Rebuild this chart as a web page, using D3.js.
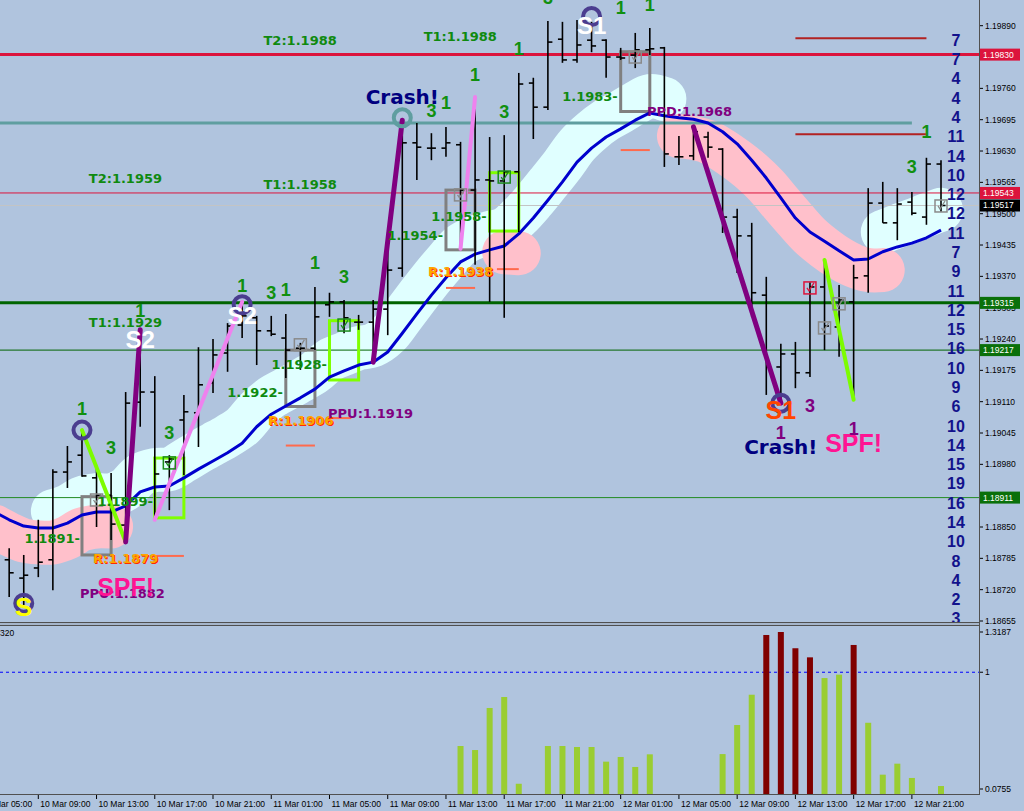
<!DOCTYPE html>
<html>
<head>
<meta charset="utf-8">
<title>EURUSD H1</title>
<script src="https://cdn.jsdelivr.net/npm/d3@7"></script>
<style>
  body { margin: 0; background: #b0c4de; }
  svg { display: block; }
  text { font-family: "Liberation Sans", Arial, sans-serif; }
</style>
</head>
<body>
<svg id="chart" width="1024" height="811"></svg>
<script>
// hourly bars, first one is 10 Mar 06:00
var barOpen = [1.18800, 1.18782, 1.18744, 1.18765, 1.18782, 1.18964, 1.18999, 1.18952, 1.18916, 1.18854,
  1.19109, 1.19130, 1.18985, 1.19072, 1.19087, 1.19149, 1.19211, 1.19269, 1.19284, 1.19257,
  1.19242, 1.19221, 1.19221, 1.19311, 1.19317, 1.19275, 1.19275, 1.19302, 1.19387, 1.19647,
  1.19636, 1.19636, 1.19643, 1.19549, 1.19570, 1.19568, 1.19587, 1.19771, 1.19721, 1.19862,
  1.19819, 1.19860, 1.19860, 1.19825, 1.19829, 1.19840, 1.19844, 1.19618, 1.19620, 1.19659,
  1.19634, 1.19493, 1.19454, 1.19331, 1.19182, 1.19209, 1.19170, 1.19348, 1.19265, 1.19317,
  1.19371, 1.19522, 1.19481, 1.19524, 1.19493, 1.19603];
var barHigh = [1.18830, 1.18806, 1.18792, 1.18865, 1.18970, 1.19018, 1.19051, 1.18977, 1.18962, 1.19130,
  1.19259, 1.19163, 1.18999, 1.19124, 1.19223, 1.19240, 1.19273, 1.19317, 1.19288, 1.19288,
  1.19292, 1.19232, 1.19348, 1.19336, 1.19321, 1.19290, 1.19321, 1.19462, 1.19694, 1.19688,
  1.19667, 1.19680, 1.19649, 1.19742, 1.19659, 1.19663, 1.19792, 1.19782, 1.19900, 1.19898,
  1.19902, 1.19898, 1.19862, 1.19844, 1.19875, 1.19885, 1.19846, 1.19661, 1.19680, 1.19670,
  1.19636, 1.19510, 1.19481, 1.19369, 1.19230, 1.19234, 1.19358, 1.19404, 1.19352, 1.19394,
  1.19553, 1.19566, 1.19553, 1.19545, 1.19616, 1.19611];
var barLow = [1.18740, 1.18705, 1.18688, 1.18746, 1.18719, 1.18931, 1.18954, 1.18850, 1.18823, 1.18819,
  1.19058, 1.18865, 1.18885, 1.18958, 1.19016, 1.19128, 1.19172, 1.19242, 1.19186, 1.19246,
  1.19159, 1.19176, 1.19217, 1.19286, 1.19252, 1.19259, 1.19192, 1.19248, 1.19369, 1.19570,
  1.19611, 1.19618, 1.19427, 1.19394, 1.19317, 1.19284, 1.19462, 1.19655, 1.19715, 1.19813,
  1.19813, 1.19835, 1.19782, 1.19819, 1.19802, 1.19829, 1.19597, 1.19601, 1.19611, 1.19616,
  1.19460, 1.19377, 1.19286, 1.19124, 1.19107, 1.19138, 1.19161, 1.19217, 1.19203, 1.19114,
  1.19336, 1.19481, 1.19445, 1.19497, 1.19477, 1.19504];
var barClose = [1.18782, 1.18755, 1.18750, 1.18777, 1.18964, 1.18985, 1.18956, 1.18916, 1.18856, 1.19107,
  1.19130, 1.18960, 1.18991, 1.19089, 1.19145, 1.19207, 1.19267, 1.19288, 1.19257, 1.19250,
  1.19217, 1.19221, 1.19286, 1.19317, 1.19284, 1.19275, 1.19302, 1.19383, 1.19647, 1.19638,
  1.19636, 1.19647, 1.19549, 1.19570, 1.19568, 1.19587, 1.19769, 1.19721, 1.19856, 1.19819,
  1.19850, 1.19848, 1.19825, 1.19823, 1.19840, 1.19842, 1.19624, 1.19618, 1.19670, 1.19638,
  1.19493, 1.19454, 1.19336, 1.19182, 1.19209, 1.19170, 1.19348, 1.19267, 1.19321, 1.19367,
  1.19522, 1.19481, 1.19520, 1.19501, 1.19603, 1.19517];

var maValues = [1.18881, 1.18865, 1.18852, 1.18848, 1.18848, 1.18858, 1.18875, 1.18881, 1.18881, 1.18894,
  1.18923, 1.18933, 1.18935, 1.18952, 1.18970, 1.18987, 1.19004, 1.19024, 1.19058, 1.19084,
  1.19101, 1.19118, 1.19136, 1.19161, 1.19174, 1.19186, 1.19192, 1.19213, 1.19252, 1.19292,
  1.19331, 1.19367, 1.19400, 1.19416, 1.19425, 1.19433, 1.19458, 1.19491, 1.19528, 1.19566,
  1.19607, 1.19636, 1.19659, 1.19676, 1.19694, 1.19709, 1.19703, 1.19699, 1.19696, 1.19688,
  1.19670, 1.19645, 1.19611, 1.19574, 1.19533, 1.19491, 1.19462, 1.19443, 1.19423, 1.19404,
  1.19406, 1.19421, 1.19431, 1.19439, 1.19450, 1.19466];

var cyanBand = [null, null, null, null,
  1.18883, 1.18893, 1.18910, 1.18916, 1.18916, 1.18929, 1.18958, 1.18968, 1.18970, 1.18987,
  1.19005, 1.19022, 1.19039, 1.19059, 1.19093, 1.19119, 1.19136, 1.19153, 1.19171, 1.19196,
  1.19209, 1.19221, 1.19227, 1.19248, 1.19287, 1.19327, 1.19366, 1.19402, 1.19435, 1.19451,
  1.19460, 1.19468, 1.19493, 1.19526, 1.19563, 1.19601, 1.19642, 1.19671, 1.19694, 1.19711,
  1.19729, 1.19744, 1.19738,
  null, null, null, null, null, null, null, null, null, null, null, null, null, null,
  1.19462, 1.19474, 1.19485, 1.19497, 1.19508];
var pinkBand = [1.18851, 1.18835, 1.18822, 1.18818, 1.18818, 1.18828, 1.18845, 1.18851, 1.18851,
  null, null, null, null, null, null, null, null, null, null, null, null, null,
  null, null, null, null, null, null, null, null, null, null, null, null, null,
  1.19420, 1.19418,
  null, null, null, null, null, null, null, null, null, null,
  1.19661, 1.19657, 1.19649, 1.19632, 1.19611, 1.19587, 1.19558, 1.19522, 1.19487, 1.19454,
  1.19429, 1.19408, 1.19392, 1.19383, 1.19383,
  null, null, null, null];

// lower window histogram, starts at bar 32 (11 Mar 14:00)
var indFirst = 32;
var indValues = [0.416, 0.384, 0.717, 0.804, 0.117, null, 0.416, 0.416, 0.408, 0.408,
  0.292, 0.329, 0.250, 0.350, null, null, null, null, 0.352, 0.582,
  0.822, 1.295, 1.3187, 1.190, 1.118, 0.954, 0.981, 1.216, 0.600, 0.189,
  0.276, 0.163, null, 0.099];

var timeLabels = ["10 Mar 05:00", "10 Mar 09:00", "10 Mar 13:00", "10 Mar 17:00", "10 Mar 21:00",
  "11 Mar 01:00", "11 Mar 05:00", "11 Mar 09:00", "11 Mar 13:00", "11 Mar 17:00", "11 Mar 21:00",
  "12 Mar 01:00", "12 Mar 05:00", "12 Mar 09:00", "12 Mar 13:00", "12 Mar 17:00", "12 Mar 21:00"];
var priceTicks = [1.19890, 1.19825, 1.19760, 1.19695, 1.19630, 1.19565, 1.19500, 1.19435, 1.19370, 1.19305,
  1.19240, 1.19175, 1.19110, 1.19045, 1.18980, 1.18915, 1.18850, 1.18785, 1.18720, 1.18655];

var levelPrices = [1.1986, 1.1982, 1.1978, 1.1974, 1.1970, 1.1966, 1.1962, 1.1958, 1.1954, 1.1950,
  1.1946, 1.1942, 1.1938, 1.1934, 1.1930, 1.1926, 1.1922, 1.1918, 1.1914, 1.1910,
  1.1906, 1.1902, 1.1898, 1.1894, 1.1890, 1.1886, 1.1882, 1.1878, 1.1874, 1.1870, 1.1866];
var levelCounts = [7, 7, 4, 4, 4, 11, 14, 10, 12, 12, 11, 7, 9, 11, 12, 15, 16, 10, 9, 6, 10, 14, 15, 19, 16, 14, 10, 8, 4, 2, 3];

var hLinePrices = [1.19830, 1.19688, 1.19543, 1.19517, 1.19315, 1.19217, 1.18911];
var indLabels = [1.3187, 1, 0.0755];

var svg = d3.select('#chart');
var plotW = 980, plotH = 622;
var x = d3.scaleLinear().domain([0, 65]).range([-5.38, 941]);
var y = d3.scaleLinear().domain([1.18655, 1.19890]).range([621, 25.7]);
var yInd = d3.scaleLinear().domain([0.0755, 1.3187]).range([789, 632]);

svg.append('rect').attr('width', 1024).attr('height', 811).attr('fill', '#b0c4de');

var defs = svg.append('defs');
defs.append('clipPath').attr('id', 'clipMain')
  .append('rect').attr('x', 0).attr('y', 0).attr('width', plotW).attr('height', plotH);
defs.append('clipPath').attr('id', 'clipInd')
  .append('rect').attr('x', 0).attr('y', 626).attr('width', plotW).attr('height', 168);

var main = svg.append('g').attr('clip-path', 'url(#clipMain)');

// ribbon around the average
var band = d3.line()
  .defined(function (d) { return d != null; })
  .x(function (d, i) { return x(i); })
  .y(function (d) { return y(d); })
  .curve(d3.curveCatmullRom);
main.append('path').attr('d', band(cyanBand))
  .attr('fill', 'none').attr('stroke', '#e0ffff').attr('stroke-width', 44)
  .attr('stroke-linecap', 'round').attr('stroke-linejoin', 'round');
main.append('path').attr('d', band(pinkBand))
  .attr('fill', 'none').attr('stroke', '#ffc0cb').attr('stroke-width', 44)
  .attr('stroke-linecap', 'round').attr('stroke-linejoin', 'round');

// horizontal levels
var hLines = [
  {p: hLinePrices[0], color: '#dc143c', w: 3, end: 65, box: '#dc143c'},
  {p: hLinePrices[1], color: '#5f9ea0', w: 3, end: 63, box: null},
  {p: hLinePrices[2], color: '#dc143c', w: 1, end: 65, box: '#dc143c'},
  {p: hLinePrices[3], color: '#c4c4c4', w: 1, end: 65, box: '#000000'},
  {p: hLinePrices[4], color: '#006400', w: 3, end: 65, box: '#0a700a'},
  {p: hLinePrices[5], color: '#006400', w: 1, end: 65, box: '#0a700a'},
  {p: hLinePrices[6], color: '#228b22', w: 1, end: 65, box: '#0a700a'}
];
main.selectAll('line.level').data(hLines).enter().append('line')
  .attr('x1', 0)
  .attr('x2', function (d) { return d.end >= 65 ? plotW : x(d.end); })
  .attr('y1', function (d) { return y(d.p); })
  .attr('y2', function (d) { return y(d.p); })
  .attr('stroke', function (d) { return d.color; })
  .attr('stroke-width', function (d) { return d.w; });

// short target / stop lines
var shortLines = [
  {i1: 11, i2: 13, p: 1.18790, color: '#ff6a4d'},
  {i1: 20, i2: 22, p: 1.19019, color: '#ff6a4d'},
  {i1: 23, i2: 24.5, p: 1.19076, color: '#ff6a4d'},
  {i1: 31, i2: 33, p: 1.19346, color: '#ff6a4d'},
  {i1: 34.5, i2: 36, p: 1.19385, color: '#ff6a4d'},
  {i1: 43, i2: 45, p: 1.19632, color: '#ff6a4d'},
  {i1: 55, i2: 64, p: 1.19864, color: '#b22222'},
  {i1: 55, i2: 64, p: 1.19665, color: '#b22222'}
];
main.selectAll('line.short').data(shortLines).enter().append('line')
  .attr('x1', function (d) { return x(d.i1); })
  .attr('x2', function (d) { return x(d.i2); })
  .attr('y1', function (d) { return y(d.p); })
  .attr('y2', function (d) { return y(d.p); })
  .attr('stroke', function (d) { return d.color; })
  .attr('stroke-width', 2);

// boxes
var boxes = [
  {i1: 6, i2: 8, top: 1.18913, bot: 1.18792, color: '#808080'},
  {i1: 20, i2: 22, top: 1.19217, bot: 1.19100, color: '#808080'},
  {i1: 31, i2: 33, top: 1.19549, bot: 1.19425, color: '#808080'},
  {i1: 43, i2: 45, top: 1.19836, bot: 1.19712, color: '#808080'},
  {i1: 11, i2: 13, top: 1.18993, bot: 1.18869, color: '#7fff00'},
  {i1: 23, i2: 25, top: 1.19278, bot: 1.19155, color: '#7fff00'},
  {i1: 34, i2: 36, top: 1.19585, bot: 1.19464, color: '#7fff00'}
];
main.selectAll('rect.box').data(boxes).enter().append('rect')
  .attr('x', function (d) { return x(d.i1); })
  .attr('y', function (d) { return y(d.top); })
  .attr('width', function (d) { return x(d.i2) - x(d.i1); })
  .attr('height', function (d) { return y(d.bot) - y(d.top); })
  .attr('fill', 'none')
  .attr('stroke', function (d) { return d.color; })
  .attr('stroke-width', 3);

// moving average
var maLine = d3.line()
  .x(function (d, i) { return x(i); })
  .y(function (d) { return y(d); });
main.append('path').attr('d', maLine(maValues))
  .attr('fill', 'none').attr('stroke', '#0000cd').attr('stroke-width', 3)
  .attr('stroke-linejoin', 'round');

// OHLC bars
var bars = barOpen.map(function (o, i) {
  return {i: i, o: o, h: barHigh[i], l: barLow[i], c: barClose[i]};
});
var bg = main.selectAll('g.bar').data(bars).enter().append('g')
  .attr('stroke', '#000').attr('stroke-width', 1.6);
bg.append('line')
  .attr('x1', function (d) { return x(d.i); }).attr('x2', function (d) { return x(d.i); })
  .attr('y1', function (d) { return y(d.h); }).attr('y2', function (d) { return y(d.l); });
bg.append('line')
  .attr('x1', function (d) { return x(d.i) - 4.5; }).attr('x2', function (d) { return x(d.i); })
  .attr('y1', function (d) { return y(d.o); }).attr('y2', function (d) { return y(d.o); });
bg.append('line')
  .attr('x1', function (d) { return x(d.i); }).attr('x2', function (d) { return x(d.i) + 4.5; })
  .attr('y1', function (d) { return y(d.c); }).attr('y2', function (d) { return y(d.c); });

// swing lines, from bar extremes
var swings = [
  {i1: 6, p1: barHigh[6], i2: 9, p2: barLow[9], color: '#7cfc00', w: 4},
  {i1: 9, p1: barLow[9], i2: 10, p2: barHigh[10], color: '#800080', w: 5},
  {i1: 11, p1: barLow[11], i2: 17, p2: barHigh[17], color: '#ee82ee', w: 4},
  {i1: 26, p1: barLow[26], i2: 28, p2: barHigh[28], color: '#800080', w: 5},
  {i1: 32, p1: barLow[32], i2: 33, p2: barHigh[33], color: '#ee82ee', w: 4},
  {i1: 48, p1: barHigh[48], i2: 54, p2: barLow[54], color: '#800080', w: 5},
  {i1: 57, p1: barHigh[57], i2: 59, p2: barLow[59], color: '#7cfc00', w: 4}
];
main.selectAll('line.swing').data(swings).enter().append('line')
  .attr('x1', function (d) { return x(d.i1); })
  .attr('y1', function (d) { return y(d.p1); })
  .attr('x2', function (d) { return x(d.i2); })
  .attr('y2', function (d) { return y(d.p2); })
  .attr('stroke', function (d) { return d.color; })
  .attr('stroke-width', function (d) { return d.w; })
  .attr('stroke-linecap', 'round');

// little tick boxes
var checks = [
  {i: 7, p: 1.18906, color: '#8a8a8a'}, {i: 21, p: 1.19228, color: '#8a8a8a'},
  {i: 24, p: 1.19269, color: '#1a8a1a'}, {i: 12, p: 1.18983, color: '#1a8a1a'},
  {i: 32, p: 1.19539, color: '#8a8a8a'}, {i: 35, p: 1.19576, color: '#1a8a1a'},
  {i: 44, p: 1.19825, color: '#8a8a8a'}, {i: 56, p: 1.19346, color: '#dc143c'},
  {i: 58, p: 1.19313, color: '#8a8a8a'}, {i: 57, p: 1.19263, color: '#8a8a8a'},
  {i: 65, p: 1.19516, color: '#8a8a8a'}
];
var cg = main.selectAll('g.check').data(checks).enter().append('g')
  .attr('transform', function (d) { return 'translate(' + x(d.i) + ',' + y(d.p) + ')'; });
cg.append('rect').attr('x', -6).attr('y', -6).attr('width', 12).attr('height', 12)
  .attr('fill', 'none').attr('stroke', function (d) { return d.color; }).attr('stroke-width', 1.5);
cg.append('path').attr('d', 'M-3,0 L-1,3 L4,-5')
  .attr('fill', 'none').attr('stroke', function (d) { return d.color; }).attr('stroke-width', 1.3);

// swing rings
var rings = [
  {i: 6, p: 1.19051, color: '#4b3d8f'}, {i: 2, p: 1.18692, color: '#4b3d8f'},
  {i: 17, p: 1.19311, color: '#4b3d8f'}, {i: 28, p: 1.19699, color: '#5f9ea0'},
  {i: 41, p: 1.19909, color: '#4b3d8f'}, {i: 54, p: 1.19107, color: '#4b3d8f'}
];
main.selectAll('circle.ring').data(rings).enter().append('circle')
  .attr('cx', function (d) { return x(d.i); })
  .attr('cy', function (d) { return y(d.p); })
  .attr('r', 8.5)
  .attr('fill', 'none')
  .attr('stroke', function (d) { return d.color; })
  .attr('stroke-width', 4);

// text annotations, anchored on bar index and price
var labels = [
  {i: 23.5, p: 1.19860, t: 'T2:1.1988', a: 'end', c: '#0f8a0f', s: 13, f: 'DejaVu Sans'},
  {i: 34.5, p: 1.19867, t: 'T1:1.1988', a: 'end', c: '#0f8a0f', s: 13, f: 'DejaVu Sans'},
  {i: 11.5, p: 1.19574, t: 'T2:1.1959', a: 'end', c: '#0f8a0f', s: 13, f: 'DejaVu Sans'},
  {i: 23.5, p: 1.19560, t: 'T1:1.1958', a: 'end', c: '#0f8a0f', s: 13, f: 'DejaVu Sans'},
  {i: 11.5, p: 1.19274, t: 'T1:1.1929', a: 'end', c: '#0f8a0f', s: 13, f: 'DejaVu Sans'},
  {i: 5.86, p: 1.18827, t: '1.1891-', a: 'end', c: '#0f8a0f', s: 13, f: 'DejaVu Sans'},
  {i: 10.88, p: 1.18903, t: '1.1899-', a: 'end', c: '#0f8a0f', s: 13, f: 'DejaVu Sans'},
  {i: 19.8, p: 1.19129, t: '1.1922-', a: 'end', c: '#0f8a0f', s: 13, f: 'DejaVu Sans'},
  {i: 22.83, p: 1.19188, t: '1.1928-', a: 'end', c: '#0f8a0f', s: 13, f: 'DejaVu Sans'},
  {i: 30.8, p: 1.19456, t: '1.1954-', a: 'end', c: '#0f8a0f', s: 13, f: 'DejaVu Sans'},
  {i: 33.8, p: 1.19495, t: '1.1958-', a: 'end', c: '#0f8a0f', s: 13, f: 'DejaVu Sans'},
  {i: 42.8, p: 1.19743, t: '1.1983-', a: 'end', c: '#0f8a0f', s: 13, f: 'DejaVu Sans'},
  {i: 5.86, p: 1.18713, t: 'PPU:1.1882', a: 'start', c: '#800080', s: 13, f: 'DejaVu Sans'},
  {i: 22.9, p: 1.19086, t: 'PPU:1.1919', a: 'start', c: '#800080', s: 13, f: 'DejaVu Sans'},
  {i: 44.8, p: 1.19712, t: 'PPD:1.1968', a: 'start', c: '#800080', s: 13, f: 'DejaVu Sans'},
  {i: 28, p: 1.19742, t: 'Crash!', a: 'middle', c: '#000080', s: 20, f: 'DejaVu Sans'},
  {i: 54, p: 1.19016, t: 'Crash!', a: 'middle', c: '#000080', s: 20, f: 'DejaVu Sans'},
  {i: 9, p: 1.18726, t: 'SPF!', a: 'middle', c: '#ff1493', s: 25, f: 'Liberation Sans'},
  {i: 59, p: 1.19024, t: 'SPF!', a: 'middle', c: '#ff1493', s: 25, f: 'Liberation Sans'},
  {i: 2, p: 1.18684, t: 'S', a: 'middle', c: '#ffff00', s: 26, f: 'Liberation Sans'},
  {i: 10, p: 1.19240, t: 'S2', a: 'middle', c: '#ffffff', s: 24, f: 'Liberation Sans'},
  {i: 17, p: 1.19290, t: 'S2', a: 'middle', c: '#ffffff', s: 24, f: 'Liberation Sans'},
  {i: 41, p: 1.19891, t: 'S1', a: 'middle', c: '#ffffff', s: 24, f: 'Liberation Sans'},
  {i: 54, p: 1.19093, t: 'S1', a: 'middle', c: '#ff4500', s: 25, f: 'Liberation Sans'}
];

// wave counts
var counts = [
  {i: 6, p: 1.19096, t: '1'}, {i: 8, p: 1.19014, t: '3'}, {i: 12, p: 1.19047, t: '3'},
  {i: 10, p: 1.19300, t: '1'}, {i: 17, p: 1.19352, t: '1'}, {i: 19, p: 1.19336, t: '3'},
  {i: 20, p: 1.19342, t: '1'}, {i: 22, p: 1.19398, t: '1'}, {i: 24, p: 1.19369, t: '3'},
  {i: 30, p: 1.19715, t: '3'}, {i: 31, p: 1.19730, t: '1'}, {i: 33, p: 1.19788, t: '1'},
  {i: 35, p: 1.19712, t: '3'}, {i: 36, p: 1.19843, t: '1'}, {i: 38, p: 1.19948, t: '3'},
  {i: 43, p: 1.19927, t: '1'}, {i: 45, p: 1.19933, t: '1'}, {i: 64, p: 1.19670, t: '1'},
  {i: 63, p: 1.19598, t: '3'}
];
var purpleCounts = [{i: 54, p: 1.19045, t: '1'}, {i: 56, p: 1.19103, t: '3'}, {i: 59, p: 1.19055, t: '1'}];

// R labels: orange with a red shade
var rLabels = [
  {i: 6.76, p: 1.18785, t: 'R:1.1879'},
  {i: 18.78, p: 1.19072, t: 'R:1.1906'},
  {i: 29.76, p: 1.19380, t: 'R:1.1938'}
];
main.selectAll('text.rshade').data(rLabels).enter().append('text')
  .attr('x', function (d) { return x(d.i) + 1; })
  .attr('y', function (d) { return y(d.p) + 1; })
  .attr('dy', '0.36em')
  .style('font-family', 'DejaVu Sans').style('font-weight', 'bold').style('font-size', '13px')
  .attr('fill', '#ff2a00').text(function (d) { return d.t; });
main.selectAll('text.rlab').data(rLabels).enter().append('text')
  .attr('x', function (d) { return x(d.i); })
  .attr('y', function (d) { return y(d.p); })
  .attr('dy', '0.36em')
  .style('font-family', 'DejaVu Sans').style('font-weight', 'bold').style('font-size', '13px')
  .attr('fill', '#ffa500').text(function (d) { return d.t; });

main.selectAll('text.lab').data(labels).enter().append('text')
  .attr('x', function (d) { return x(d.i); })
  .attr('y', function (d) { return y(d.p); })
  .attr('dy', '0.36em')
  .attr('text-anchor', function (d) { return d.a; })
  .style('font-family', function (d) { return d.f; })
  .style('font-weight', 'bold')
  .style('font-size', function (d) { return d.s + 'px'; })
  .attr('fill', function (d) { return d.c; })
  .text(function (d) { return d.t; });

main.selectAll('text.count').data(counts).enter().append('text')
  .attr('x', function (d) { return x(d.i); })
  .attr('y', function (d) { return y(d.p); })
  .attr('dy', '0.36em').attr('text-anchor', 'middle')
  .style('font-weight', 'bold').style('font-size', '18px')
  .attr('fill', '#109010').text(function (d) { return d.t; });
main.selectAll('text.pcount').data(purpleCounts).enter().append('text')
  .attr('x', function (d) { return x(d.i); })
  .attr('y', function (d) { return y(d.p); })
  .attr('dy', '0.36em').attr('text-anchor', 'middle')
  .style('font-weight', 'bold').style('font-size', '18px')
  .attr('fill', '#800080').text(function (d) { return d.t; });

// count column at the right edge
main.selectAll('text.lvl').data(levelCounts).enter().append('text')
  .attr('x', 956)
  .attr('y', function (d, i) { return y(levelPrices[i]); })
  .attr('dy', '0.36em').attr('text-anchor', 'middle')
  .style('font-weight', 'bold').style('font-size', '16px')
  .attr('fill', '#12128c').text(function (d) { return d; });

// lower window
var ind = svg.append('g').attr('clip-path', 'url(#clipInd)');
ind.append('line').attr('x1', 0).attr('x2', plotW)
  .attr('y1', yInd(1)).attr('y2', yInd(1))
  .attr('stroke', '#0000ff').attr('stroke-dasharray', '3,3');
var indData = indValues.map(function (v, k) { return {i: indFirst + k, v: v}; })
  .filter(function (d) { return d.v != null; });
ind.selectAll('rect.vb').data(indData).enter().append('rect')
  .attr('x', function (d) { return x(d.i) - 3; })
  .attr('width', 6)
  .attr('y', function (d) { return yInd(d.v); })
  .attr('height', function (d) { return 794 - yInd(d.v); })
  .attr('fill', function (d) { return d.v > 1 ? '#800000' : '#9acd32'; });
svg.append('text').attr('x', 0).attr('y', 633).attr('dy', '0.35em')
  .style('font-size', '8.5px').attr('fill', '#000').text('320');

// frames
svg.append('line').attr('x1', 0).attr('x2', plotW).attr('y1', 622.5).attr('y2', 622.5).attr('stroke', '#505050');
svg.append('line').attr('x1', 0).attr('x2', plotW).attr('y1', 624).attr('y2', 624).attr('stroke', '#9aa6b6');
svg.append('line').attr('x1', 0).attr('x2', plotW).attr('y1', 625.5).attr('y2', 625.5).attr('stroke', '#505050');
svg.append('line').attr('x1', 979.5).attr('x2', 979.5).attr('y1', 0).attr('y2', 795).attr('stroke', '#505050');
svg.append('line').attr('x1', 0).attr('x2', plotW).attr('y1', 794.5).attr('y2', 794.5).attr('stroke', '#505050');

// price axis
var pa = svg.append('g');
pa.selectAll('line.pt').data(priceTicks).enter().append('line')
  .attr('x1', 980).attr('x2', 983)
  .attr('y1', function (d) { return y(d); }).attr('y2', function (d) { return y(d); })
  .attr('stroke', '#000');
pa.selectAll('text.pt').data(priceTicks).enter().append('text')
  .attr('x', 985).attr('y', function (d) { return y(d); }).attr('dy', '0.35em')
  .style('font-size', '8.5px').attr('fill', '#000')
  .text(function (d) { return d.toFixed(5); });

var boxed = hLines.filter(function (d) { return d.box; });
pa.selectAll('rect.pb').data(boxed).enter().append('rect')
  .attr('x', 980).attr('width', 40)
  .attr('y', function (d) { return y(d.p) - 6; }).attr('height', 12)
  .attr('fill', function (d) { return d.box; });
pa.selectAll('text.pb').data(boxed).enter().append('text')
  .attr('x', 983).attr('y', function (d) { return y(d.p); }).attr('dy', '0.35em')
  .style('font-size', '8.5px').attr('fill', '#fff')
  .text(function (d) { return d.p.toFixed(5); });

pa.selectAll('line.it').data(indLabels).enter().append('line')
  .attr('x1', 980).attr('x2', 983)
  .attr('y1', function (d) { return yInd(d); }).attr('y2', function (d) { return yInd(d); })
  .attr('stroke', '#000');
pa.selectAll('text.it').data(indLabels).enter().append('text')
  .attr('x', 985).attr('y', function (d) { return yInd(d); }).attr('dy', '0.35em')
  .style('font-size', '8.5px').attr('fill', '#000')
  .text(function (d) { return String(d); });

// time axis, every 4 hours starting 10 Mar 05:00
var ta = svg.append('g');
ta.selectAll('line.tt').data(timeLabels).enter().append('line')
  .attr('x1', function (d, k) { return x(-1 + 4 * k); })
  .attr('x2', function (d, k) { return x(-1 + 4 * k); })
  .attr('y1', 795).attr('y2', 799).attr('stroke', '#000');
ta.selectAll('text.tt').data(timeLabels).enter().append('text')
  .attr('x', function (d, k) { return x(-1 + 4 * k) + 2; })
  .attr('y', 807)
  .style('font-size', '8.5px').attr('fill', '#000')
  .text(function (d) { return d; });
</script>
</body>
</html>
